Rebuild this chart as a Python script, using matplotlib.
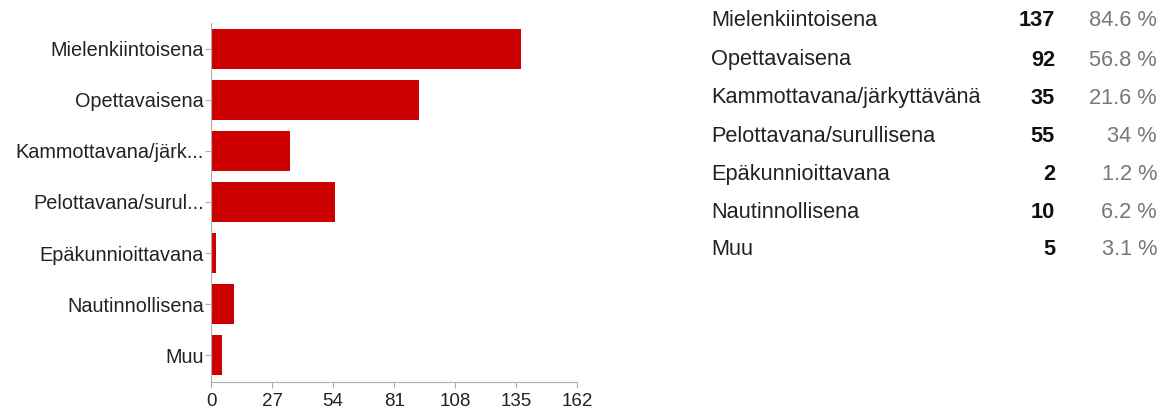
import matplotlib.pyplot as plt

plt.rcParams['font.family'] = ['Liberation Sans', 'DejaVu Sans']

# vastaukset
full_labels = ['Mielenkiintoisena', 'Opettavaisena', 'Kammottavana/järkyttävänä',
               'Pelottavana/surullisena', 'Epäkunnioittavana', 'Nautinnollisena', 'Muu']
axis_labels = ['Mielenkiintoisena', 'Opettavaisena', 'Kammottavana/järk...',
               'Pelottavana/surul...', 'Epäkunnioittavana', 'Nautinnollisena', 'Muu']
counts = [137, 92, 35, 55, 2, 10, 5]
percents = ['84.6 %', '56.8 %', '21.6 %', '34 %', '1.2 %', '6.2 %', '3.1 %']
xticks = [0, 27, 54, 81, 108, 135, 162]

fig = plt.figure(figsize=(11.68, 4.12), dpi=100)
ax = fig.add_axes([0.1807, 0.073, 0.3134, 0.871])

ypos = list(range(len(counts)))
ax.barh(ypos, counts, height=0.78, color='#cc0000')
ax.set_ylim(6.52, -0.5)
ax.set_xlim(0, 162)
ax.set_xticks(xticks)
ax.set_yticks(ypos)
ax.set_yticklabels(axis_labels)

for s in ['top', 'right']:
    ax.spines[s].set_visible(False)
for s in ['left', 'bottom']:
    ax.spines[s].set_color('#b0b0b0')
ax.tick_params(axis='both', colors='#b0b0b0', labelcolor='#222222', length=4)
ax.tick_params(axis='y', pad=1, labelsize=14.3)
ax.tick_params(axis='x', pad=4, labelsize=13.5)

# taulukko oikealla
row_y = [21, 60, 98, 136, 175, 213, 250]
for lab, c, p, y in zip(full_labels, counts, percents, row_y):
    yf = 1 - y / 412
    fig.text(711 / 1168, yf, lab, fontsize=15.7, color='#222222', va='center', ha='left')
    fig.text(1055 / 1168, yf, str(c), fontsize=15.7, color='#111111', va='center', ha='right',
             fontweight='bold')
    fig.text(1157 / 1168, yf, p, fontsize=15.7, color='#777777', va='center', ha='right')

fig.savefig('out.png', dpi=100)
